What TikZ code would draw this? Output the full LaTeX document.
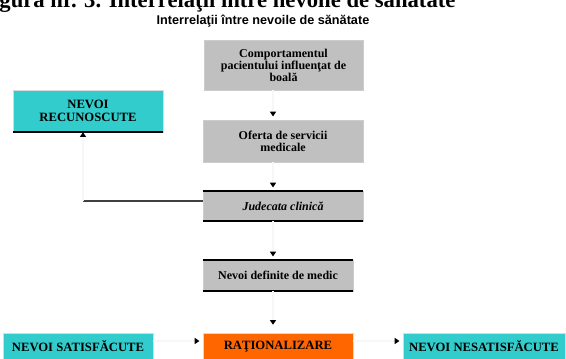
\documentclass[tikz,border=0pt]{standalone}
\usepackage{fontspec}
\setmainfont{Liberation Serif}
\newfontfamily\subfont{Liberation Sans}
\usepackage{xcolor}
\usetikzlibrary{arrows.meta}

\definecolor{boxgray}{HTML}{C0C0C0}
\definecolor{boxcyan}{HTML}{33CCCC}
\definecolor{boxorange}{HTML}{FF6600}

\begin{document}
\begin{tikzpicture}[x=0.75pt, y=-0.75pt,
  greybox/.style={fill=boxgray, draw=gray!40, line width=0.4pt, inner sep=0pt,
    align=center, font=\bfseries\fontsize{9}{9}\selectfont},
  cyanbox/.style={fill=boxcyan, draw=gray!30, line width=0.4pt, inner sep=0pt,
    align=center, font=\bfseries\fontsize{9.5}{9.5}\selectfont},
  flow/.style={draw=gray!6, line width=1.2pt,
    -{Triangle[length=3.5pt, width=4.5pt, color=black]}, shorten >=2.5pt},
  rule/.style={line width=1.5pt, black}]
  \useasboundingbox (0,0) rectangle (566,358);

  % Titles
  \node[anchor=base west, inner sep=0pt, font=\bfseries\fontsize{17}{19}\selectfont] (title)
    at (-21,7) {Figura nr. 3. Interrelaţii între nevoile de sănătate};
  \node[inner sep=0pt, font=\subfont\bfseries\fontsize{9.5}{11}\selectfont] (subtitle)
    at (263,21) {Interrelaţii între nevoile de sănătate};

  % Central column
  \node[greybox, minimum width=119pt, minimum height=37.5pt] (behav) at (283.5,65)
    {Comportamentul\\pacientului influenţat de\\boală};
  \node[greybox, minimum width=120pt, minimum height=31.5pt] (offer) at (283,141)
    {Oferta de servicii\\medicale};
  \node[greybox, minimum width=120pt, minimum height=22.5pt] (judge) at (283,206)
    {\itshape Judecata clinică};
  \node[greybox, minimum width=112.5pt, minimum height=23.25pt] (medic) at (278,275.5)
    {Nevoi definite de medic};

  % Side and bottom boxes
  \node[cyanbox, minimum width=112.5pt, minimum height=31.5pt] (known) at (88,111)
    {NEVOI\\RECUNOSCUTE};
  \node[cyanbox, minimum width=112.5pt, minimum height=20.25pt] (met) at (78,346.5)
    {NEVOI SATISFĂCUTE};
  \node[fill=boxorange, draw=gray!30, line width=0.4pt, inner sep=0pt,
    minimum width=112.5pt, minimum height=20.25pt,
    font=\bfseries\fontsize{9.5}{9.5}\selectfont] (ration) at (278,346.5) {RAŢIONALIZARE};
  \node[cyanbox, minimum width=121.5pt, minimum height=20.25pt] (unmet) at (484,346.5)
    {NEVOI NESATISFĂCUTE};

  % Black rules on boxes
  \draw[rule] (judge.north west) -- (judge.north east);
  \draw[rule] (judge.south west) -- (judge.south east);
  \draw[rule] (medic.north west) -- (medic.north east);
  \draw[rule] (medic.south west) -- (medic.south east);
  \draw[rule] (known.south west) -- (known.south east);

  % Connectors
  \coordinate (axis) at (273,0);
  \coordinate (corner) at (83,201);
  \coordinate (row) at (0,341);
  \draw[flow] (behav.south -| axis) -- (offer.north -| axis);
  \draw[flow] (offer.south -| axis) -- (judge.north -| axis);
  \draw[flow] (judge.south -| axis) -- (medic.north -| axis);
  \draw[flow, shorten >=6pt] (medic.south -| axis) -- (ration.north -| axis);
  \draw[line width=1.5pt, black!75] (judge.west |- corner) -- (corner);
  \draw[flow, shorten >=0pt] (corner) -- (known.south -| corner);
  \draw[flow] (met.east |- row) -- (ration.west |- row);
  \draw[flow] (ration.east |- row) -- (unmet.west |- row);
\end{tikzpicture}
\end{document}
